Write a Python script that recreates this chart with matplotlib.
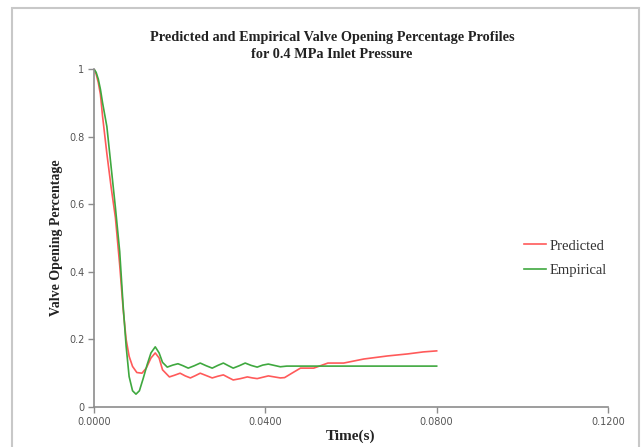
import matplotlib
matplotlib.use("Agg")
import matplotlib.pyplot as plt
from matplotlib.patches import Rectangle

# time (s) and valve opening
t_pred = [0.0000, 0.0005, 0.0010, 0.0015, 0.0020, 0.0030, 0.0040, 0.0050, 0.0060,
          0.0068, 0.0075, 0.0082, 0.0090, 0.0100, 0.0112, 0.0122, 0.0133, 0.0143,
          0.0152, 0.0160, 0.0176, 0.0188, 0.0201, 0.0213, 0.0225, 0.0237, 0.0248,
          0.0262, 0.0276, 0.0289, 0.0302, 0.0314, 0.0325, 0.0342, 0.0358, 0.0370,
          0.0381, 0.0394, 0.0407, 0.0421, 0.0435, 0.0445, 0.0462, 0.0482, 0.0513,
          0.0546, 0.0583, 0.0630, 0.0685, 0.0732, 0.0769, 0.0800]
predicted = [1.000, 0.985, 0.960, 0.925, 0.860, 0.750, 0.650, 0.560, 0.420,
             0.290, 0.200, 0.150, 0.120, 0.102, 0.100, 0.115, 0.145, 0.160,
             0.145, 0.110, 0.089, 0.094, 0.100, 0.092, 0.086, 0.093, 0.100,
             0.093, 0.086, 0.091, 0.095, 0.087, 0.080, 0.084, 0.089, 0.086,
             0.084, 0.088, 0.092, 0.089, 0.086, 0.087, 0.100, 0.115, 0.115,
             0.130, 0.130, 0.142, 0.151, 0.157, 0.163, 0.166]

t_emp = [0.0000, 0.0005, 0.0010, 0.0015, 0.0020, 0.0030, 0.0040, 0.0050, 0.0060,
         0.0068, 0.0075, 0.0082, 0.0090, 0.0098, 0.0106, 0.0115, 0.0124, 0.0133,
         0.0143, 0.0152, 0.0160, 0.0171, 0.0184, 0.0196, 0.0208, 0.0220, 0.0234,
         0.0248, 0.0262, 0.0276, 0.0289, 0.0302, 0.0314, 0.0325, 0.0339, 0.0353,
         0.0367, 0.0381, 0.0394, 0.0407, 0.0421, 0.0435, 0.0450, 0.0800]
empirical = [1.000, 0.990, 0.970, 0.940, 0.900, 0.830, 0.710, 0.590, 0.460,
             0.300, 0.180, 0.090, 0.048, 0.038, 0.048, 0.085, 0.125, 0.160,
             0.178, 0.160, 0.132, 0.118, 0.124, 0.128, 0.122, 0.115, 0.122,
             0.130, 0.122, 0.115, 0.123, 0.130, 0.122, 0.115, 0.122, 0.130,
             0.123, 0.118, 0.124, 0.127, 0.123, 0.119, 0.121, 0.121]

x_ticks = [0.0, 0.04, 0.08, 0.12]
x_labels = ["0.0000", "0.0400", "0.0800", "0.1200"]
y_ticks = [0, 0.2, 0.4, 0.6, 0.8, 1.0]
y_labels = ["0", "0.2", "0.4", "0.6", "0.8", "1"]

serif = ["Liberation Serif", "DejaVu Serif"]
axis_grey = "#8c8c8c"

fig = plt.figure(figsize=(6.41, 4.47), dpi=100)
fig.patches.append(Rectangle((12 / 641, -0.01), 627 / 641, 1 - 8 / 447 + 0.01,
                             transform=fig.transFigure, fill=False,
                             edgecolor="#c8c8c8", linewidth=1.5))

ax = fig.add_axes([94 / 641, 1 - 407 / 447, 514 / 641, 338 / 447])
ax.plot(t_pred, predicted, color="#ff5a5a", lw=1.2, label="Predicted")
ax.plot(t_emp, empirical, color="#3fa83f", lw=1.2, label="Empirical")

ax.set_xlim(0, 0.12)
ax.set_ylim(0, 1)
ax.set_xticks(x_ticks, x_labels)
ax.set_yticks(y_ticks, y_labels)
ax.tick_params(colors=axis_grey, labelcolor="#555555", labelsize=7,
               length=4, width=1, pad=3)
for s in ["top", "right"]:
    ax.spines[s].set_visible(False)
for s in ["left", "bottom"]:
    ax.spines[s].set_color(axis_grey)
    ax.spines[s].set_linewidth(1.2)

ax.set_xlabel("Time(s)", family=serif, fontweight="bold", fontsize=11,
              color="#222222", labelpad=2)
ax.set_ylabel("Valve Opening Percentage", family=serif, fontweight="bold",
              fontsize=10, color="#222222", labelpad=4)

fig.text(332 / 641, 1 - 46 / 447,
         "Predicted and Empirical Valve Opening Percentage Profiles\nfor 0.4 MPa Inlet Pressure",
         ha="center", va="center", family=serif, fontweight="bold",
         fontsize=10.3, color="#222222", linespacing=1.45)

ax.legend(loc="upper left", bbox_to_anchor=(0.812, 0.535), frameon=False,
          prop={"family": serif, "size": 10.5}, handlelength=1.5,
          handletextpad=0.2, labelspacing=0.75, labelcolor="#333333")

fig.savefig("out.png", dpi=100)
